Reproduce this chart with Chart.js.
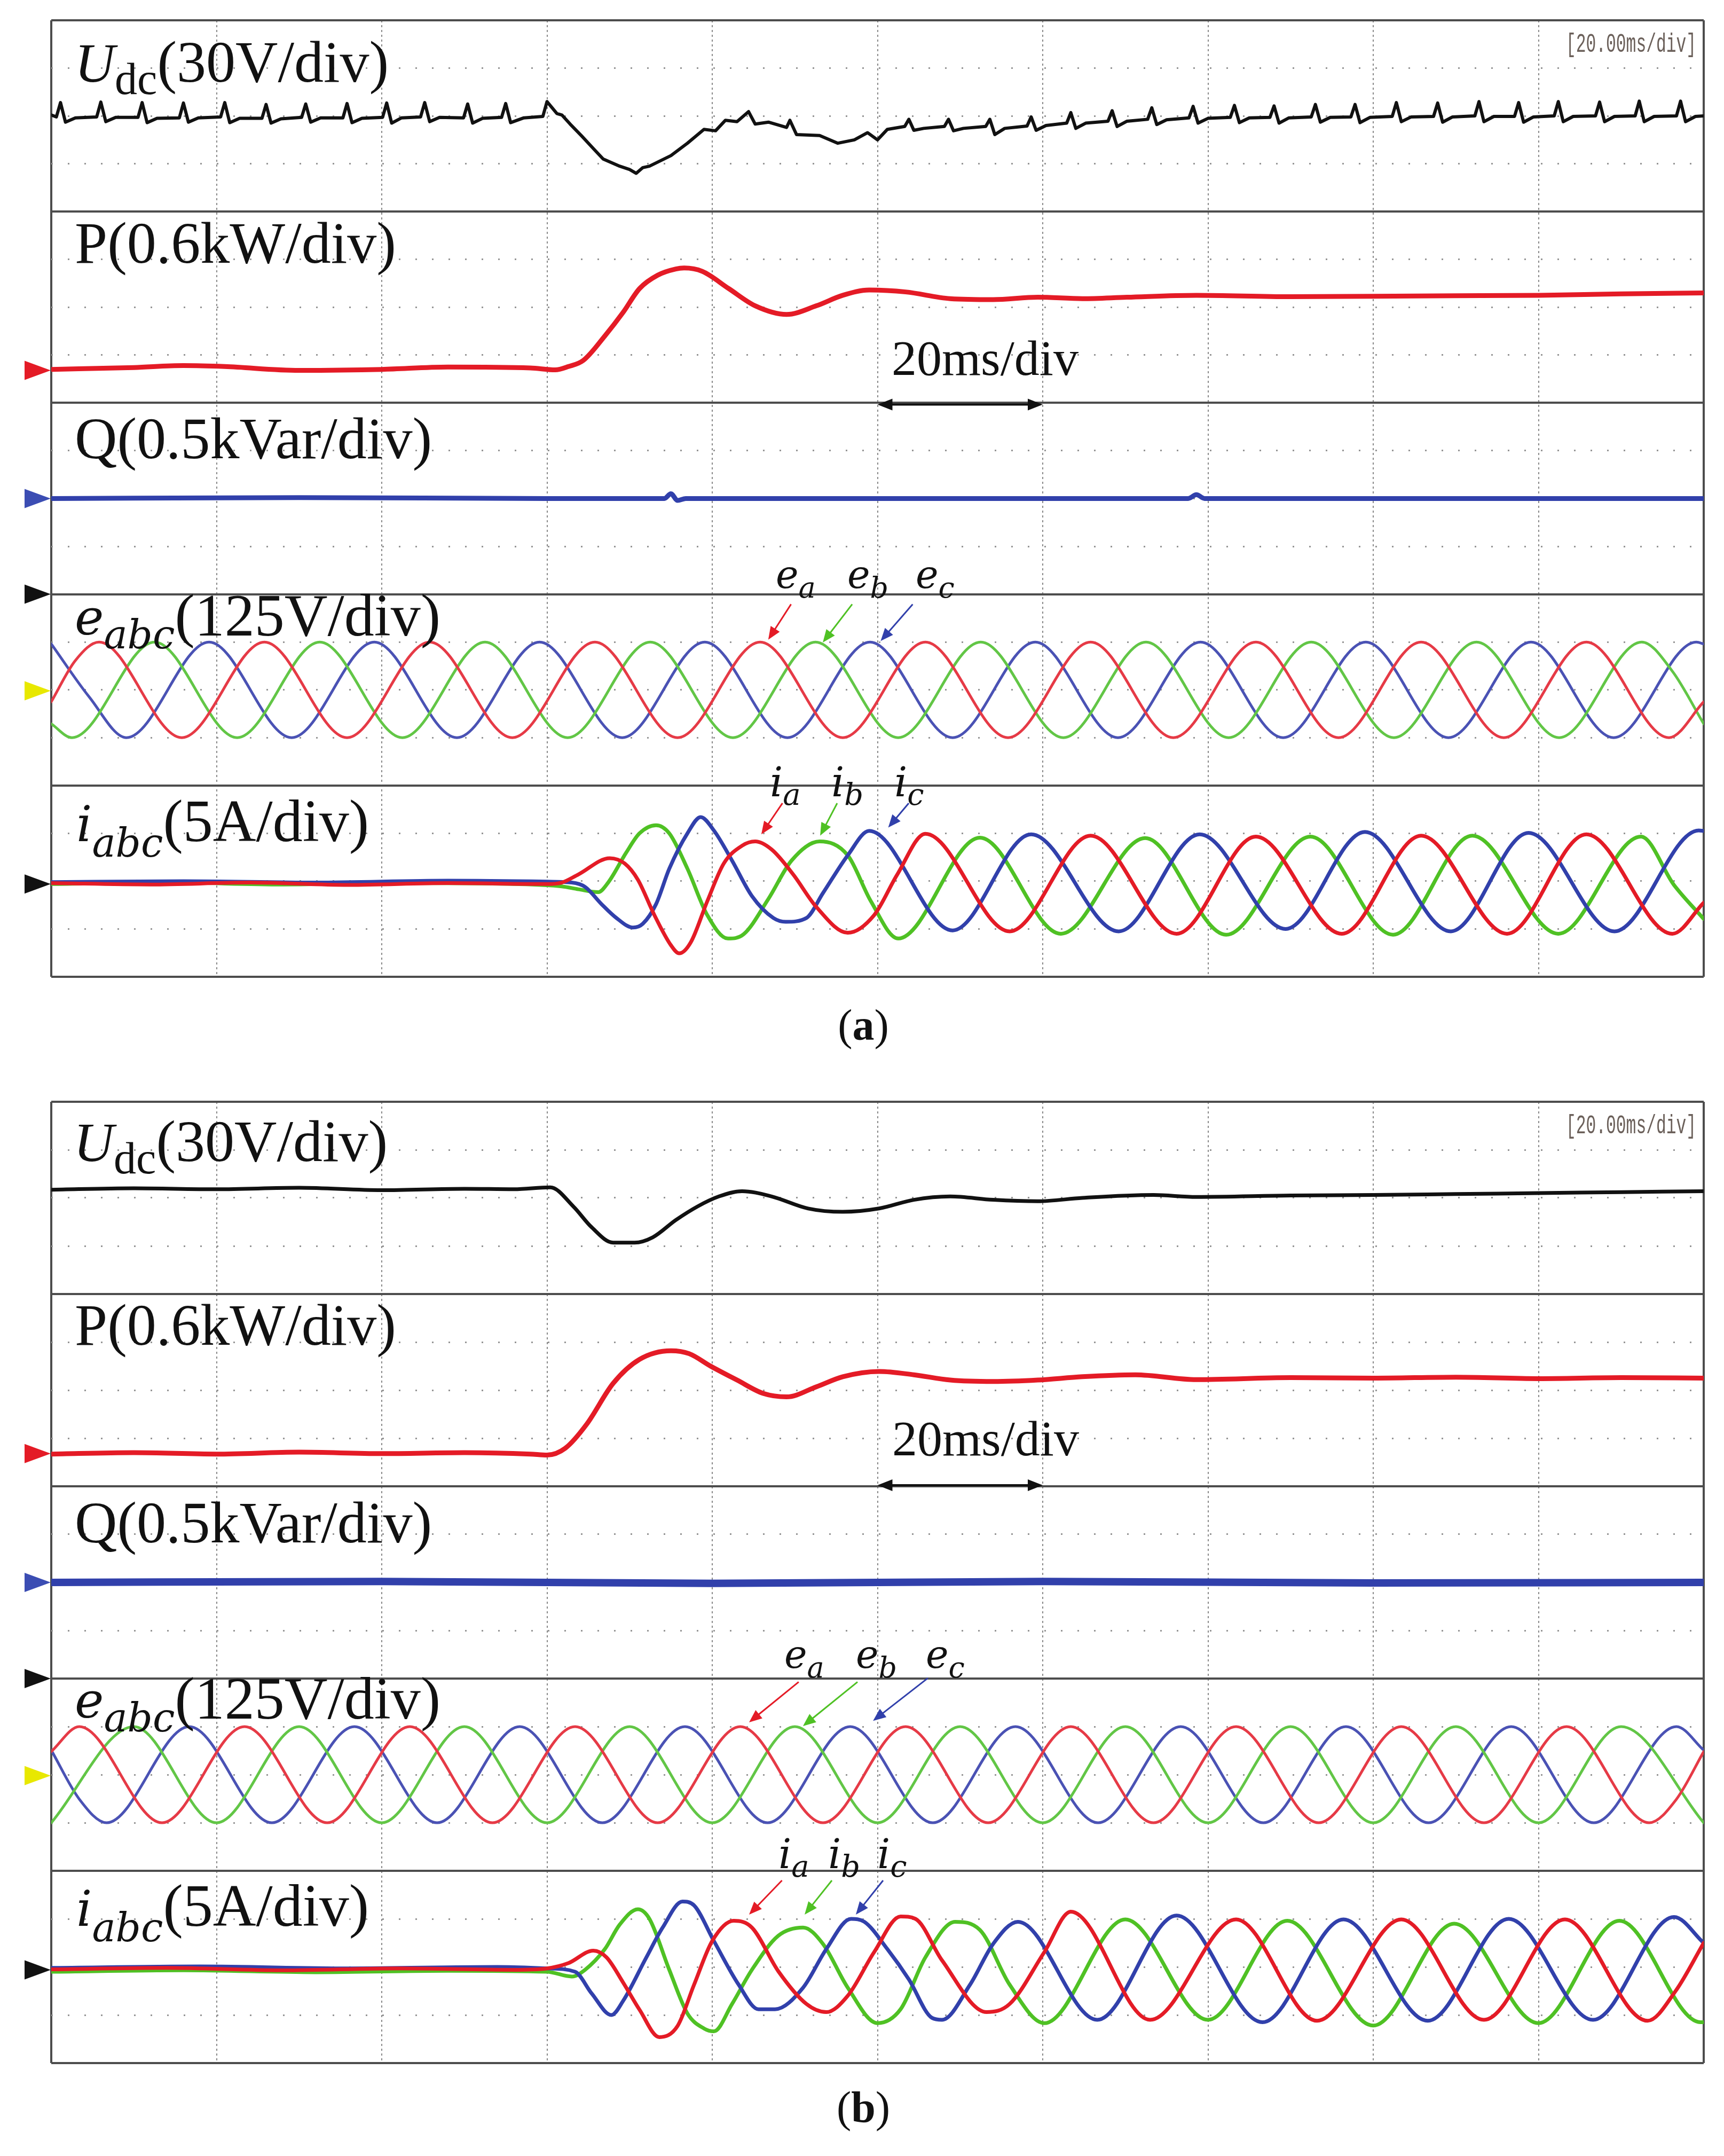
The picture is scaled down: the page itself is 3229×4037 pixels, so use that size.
<!DOCTYPE html>
<html><head><meta charset="utf-8">
<script src="https://cdn.jsdelivr.net/npm/chart.js@4.4.1/dist/chart.umd.min.js"></script>
<style>
html,body{margin:0;padding:0;background:#fff;}
body{width:3229px;height:4037px;position:relative;overflow:hidden;}
.pane{position:absolute;left:0;width:3229px;height:1880px;}
svg{position:absolute;left:0;top:0;pointer-events:none;}
.lab{font-family:"Liberation Serif","Times New Roman",serif;font-size:110px;fill:#111;}
</style></head><body>
<div class="pane" style="top:0px"><canvas id="ca"></canvas></div>
<div class="pane" style="top:2025px"><canvas id="cb"></canvas></div>
<svg width="3229" height="4037" xmlns="http://www.w3.org/2000/svg">
<!-- panel (a) -->
<text class="lab" x="140" y="153"><tspan style="font-style:italic;font-size:104px">U</tspan><tspan style="font-size:84px" dy="23">dc</tspan><tspan dy="-23">(30V/div)</tspan></text>
<text class="lab" x="140" y="492">P(0.6kW/div)</text>
<text class="lab" x="140" y="858">Q(0.5kVar/div)</text>
<text class="lab" x="140" y="1188"><tspan style="font-family:'DejaVu Serif';font-style:italic;font-size:92px">e</tspan><tspan style="font-family:'DejaVu Serif';font-style:italic;font-size:74px" dy="26">abc</tspan><tspan dy="-24" style="font-size:112px">(125V/div)</tspan></text>
<text class="lab" x="143" y="1575"><tspan style="font-family:'DejaVu Serif';font-style:italic;font-size:92px">i</tspan><tspan style="font-family:'DejaVu Serif';font-style:italic;font-size:74px" dy="29">abc</tspan><tspan dy="-29" style="font-size:112px">(5A/div)</tspan></text>
<text class="lab" x="1670" y="702" style="font-size:94px">20ms/div</text>
<text x="2933" y="97" style="font-family:'Liberation Mono',monospace;font-size:50px;fill:#6b605a" textLength="244" lengthAdjust="spacingAndGlyphs">[20.00ms/div]</text>
<text x="1453" y="1101" style="fill:#111"><tspan style="font-family:'DejaVu Serif';font-style:italic;font-size:72px">e</tspan><tspan style="font-family:'DejaVu Serif';font-style:italic;font-size:54px" dy="18">a</tspan></text>
<text x="1587" y="1101" style="fill:#111"><tspan style="font-family:'DejaVu Serif';font-style:italic;font-size:72px">e</tspan><tspan style="font-family:'DejaVu Serif';font-style:italic;font-size:54px" dy="18">b</tspan></text>
<text x="1715" y="1101" style="fill:#111"><tspan style="font-family:'DejaVu Serif';font-style:italic;font-size:72px">e</tspan><tspan style="font-family:'DejaVu Serif';font-style:italic;font-size:54px" dy="18">c</tspan></text>
<text x="1442" y="1491" style="fill:#111"><tspan style="font-family:'DejaVu Serif';font-style:italic;font-size:76px">i</tspan><tspan style="font-family:'DejaVu Serif';font-style:italic;font-size:56px" dy="16">a</tspan></text>
<text x="1557" y="1491" style="fill:#111"><tspan style="font-family:'DejaVu Serif';font-style:italic;font-size:76px">i</tspan><tspan style="font-family:'DejaVu Serif';font-style:italic;font-size:56px" dy="16">b</tspan></text>
<text x="1675" y="1491" style="fill:#111"><tspan style="font-family:'DejaVu Serif';font-style:italic;font-size:76px">i</tspan><tspan style="font-family:'DejaVu Serif';font-style:italic;font-size:56px" dy="16">c</tspan></text>
<text x="1617" y="1947" text-anchor="middle" style="font-family:'Liberation Serif';font-size:82px;fill:#111">(<tspan style="font-weight:bold">a</tspan>)</text>
<!-- panel (b) -->
<text class="lab" x="138" y="2174"><tspan style="font-style:italic;font-size:104px">U</tspan><tspan style="font-size:84px" dy="23">dc</tspan><tspan dy="-23">(30V/div)</tspan></text>
<text class="lab" x="140" y="2518">P(0.6kW/div)</text>
<text class="lab" x="140" y="2888">Q(0.5kVar/div)</text>
<text class="lab" x="140" y="3216"><tspan style="font-family:'DejaVu Serif';font-style:italic;font-size:92px">e</tspan><tspan style="font-family:'DejaVu Serif';font-style:italic;font-size:74px" dy="26">abc</tspan><tspan dy="-24" style="font-size:112px">(125V/div)</tspan></text>
<text class="lab" x="143" y="3606"><tspan style="font-family:'DejaVu Serif';font-style:italic;font-size:92px">i</tspan><tspan style="font-family:'DejaVu Serif';font-style:italic;font-size:74px" dy="29">abc</tspan><tspan dy="-29" style="font-size:112px">(5A/div)</tspan></text>
<text class="lab" x="1671" y="2725" style="font-size:94px">20ms/div</text>
<text x="2933" y="2122" style="font-family:'Liberation Mono',monospace;font-size:50px;fill:#6b605a" textLength="244" lengthAdjust="spacingAndGlyphs">[20.00ms/div]</text>
<text x="1469" y="3123" style="fill:#111"><tspan style="font-family:'DejaVu Serif';font-style:italic;font-size:72px">e</tspan><tspan style="font-family:'DejaVu Serif';font-style:italic;font-size:54px" dy="18">a</tspan></text>
<text x="1603" y="3123" style="fill:#111"><tspan style="font-family:'DejaVu Serif';font-style:italic;font-size:72px">e</tspan><tspan style="font-family:'DejaVu Serif';font-style:italic;font-size:54px" dy="18">b</tspan></text>
<text x="1734" y="3123" style="fill:#111"><tspan style="font-family:'DejaVu Serif';font-style:italic;font-size:72px">e</tspan><tspan style="font-family:'DejaVu Serif';font-style:italic;font-size:54px" dy="18">c</tspan></text>
<text x="1458" y="3498" style="fill:#111"><tspan style="font-family:'DejaVu Serif';font-style:italic;font-size:76px">i</tspan><tspan style="font-family:'DejaVu Serif';font-style:italic;font-size:56px" dy="16">a</tspan></text>
<text x="1551" y="3498" style="fill:#111"><tspan style="font-family:'DejaVu Serif';font-style:italic;font-size:76px">i</tspan><tspan style="font-family:'DejaVu Serif';font-style:italic;font-size:56px" dy="16">b</tspan></text>
<text x="1643" y="3498" style="fill:#111"><tspan style="font-family:'DejaVu Serif';font-style:italic;font-size:76px">i</tspan><tspan style="font-family:'DejaVu Serif';font-style:italic;font-size:56px" dy="16">c</tspan></text>
<text x="1617" y="3973" text-anchor="middle" style="font-family:'Liberation Serif';font-size:82px;fill:#111">(<tspan style="font-weight:bold">b</tspan>)</text>
</svg>
<script>
// ---------- readings (time in div of 20 ms, value in vertical div from channel reference) ----------
// Panel (a)
const udcA = [[0,0.02],[0.031,-0.02],[0.056,0.28],[0.086,-0.13],[0.146,-0.04],
 [0.275,-0.02],[0.30,0.29],[0.33,-0.12],[0.39,-0.03],
 [0.525,-0.03],[0.55,0.28],[0.58,-0.14],[0.64,-0.05],
 [0.775,-0.04],[0.80,0.27],[0.83,-0.13],[0.89,-0.04],
 [1.025,-0.02],[1.05,0.28],[1.08,-0.14],[1.14,-0.05],
 [1.275,-0.05],[1.30,0.24],[1.33,-0.15],[1.39,-0.06],
 [1.515,-0.03],[1.54,0.25],[1.57,-0.13],[1.63,-0.04],
 [1.765,-0.04],[1.79,0.26],[1.82,-0.14],[1.88,-0.05],
 [2.005,-0.03],[2.03,0.27],[2.06,-0.15],[2.12,-0.04],
 [2.235,-0.02],[2.26,0.28],[2.29,-0.12],[2.35,-0.03],
 [2.495,-0.04],[2.52,0.25],[2.55,-0.15],[2.61,-0.05],
 [2.725,-0.03],[2.75,0.26],[2.78,-0.14],[2.86,-0.04],
 [2.975,-0.01],[3.00,0.30],[3.06,0.05],
 [3.09,0.02],[3.14,-0.17],[3.21,-0.42],[3.28,-0.68],[3.34,-0.90],[3.44,-1.05],[3.50,-1.12],[3.54,-1.20],[3.58,-1.08],[3.62,-1.05],[3.75,-0.83],[3.85,-0.57],[3.95,-0.28],[4.02,-0.31],[4.08,-0.09],[4.15,-0.12],[4.22,0.09],[4.26,-0.17],[4.34,-0.13],[4.45,-0.24],[4.47,-0.09],[4.51,-0.39],[4.65,-0.41],[4.76,-0.57],[4.86,-0.50],[4.94,-0.35],[5.00,-0.50],[5.06,-0.28],
 [5.165,-0.22],[5.19,-0.07],[5.22,-0.30],[5.28,-0.26],
 [5.405,-0.22],[5.43,-0.07],[5.46,-0.31],[5.52,-0.26],
 [5.655,-0.22],[5.68,-0.07],[5.71,-0.39],[5.77,-0.26],
 [5.905,-0.21],[5.93,-0.02],[5.96,-0.30],[6.02,-0.20],
 [6.145,-0.15],[6.17,0.07],[6.20,-0.26],[6.26,-0.15],
 [6.395,-0.11],[6.42,0.11],[6.45,-0.22],[6.51,-0.11],
 [6.635,-0.07],[6.66,0.17],[6.69,-0.18],[6.75,-0.08],
 [6.885,-0.04],[6.91,0.20],[6.94,-0.15],[7.00,-0.05],
 [7.135,-0.03],[7.16,0.22],[7.19,-0.14],[7.25,-0.04],
 [7.375,-0.03],[7.40,0.21],[7.43,-0.15],[7.49,-0.04],
 [7.625,-0.02],[7.65,0.24],[7.68,-0.13],[7.74,-0.03],
 [7.865,-0.02],[7.89,0.24],[7.92,-0.14],[7.98,-0.03],
 [8.115,-0.01],[8.14,0.28],[8.17,-0.12],[8.23,-0.02],
 [8.365,-0.01],[8.39,0.27],[8.42,-0.13],[8.48,-0.02],
 [8.615,0.00],[8.64,0.30],[8.67,-0.12],[8.73,-0.01],
 [8.855,-0.01],[8.88,0.28],[8.91,-0.13],[8.97,-0.02],
 [9.095,0.00],[9.12,0.30],[9.15,-0.12],[9.21,-0.01],
 [9.345,0.00],[9.37,0.29],[9.40,-0.12],[9.46,-0.01],
 [9.585,0.00],[9.61,0.31],[9.64,-0.12],[9.70,-0.01],
 [9.835,0.00],[9.86,0.31],[9.89,-0.12],[9.95,-0.01],[10,0.00]];
const pA = [[0,-1.30],[0.5,-1.26],[0.8,-1.22],[1.05,-1.24],[1.5,-1.32],[2.0,-1.30],[2.4,-1.25],[2.9,-1.27],[3.05,-1.31],[3.13,-1.24],[3.22,-1.11],[3.35,-0.60],[3.46,-0.11],[3.56,0.39],[3.67,0.67],[3.78,0.80],[3.83,0.82],[3.94,0.75],[4.10,0.39],[4.26,0.03],[4.45,-0.15],[4.63,0.03],[4.79,0.25],[4.95,0.36],[5.17,0.32],[5.44,0.18],[5.70,0.16],[5.97,0.21],[6.24,0.18],[6.51,0.21],[6.93,0.25],[7.5,0.22],[8.0,0.23],[8.5,0.24],[9.0,0.25],[9.5,0.28],[10,0.30]];
const qA = [[0,0],[1.5,0.02],[3.0,0.0],[3.71,0.0],[3.75,0.10],[3.79,-0.04],[3.84,0.0],[5.0,0.0],[6.88,0.0],[6.93,0.08],[6.98,0.0],[10,0.0]];
const eaA = [[0,-0.25],[0.145,0.61],[0.29,1],[0.79,-1],[1.29,1],[1.79,-1],[2.29,1],[2.79,-1],[3.29,1],[3.79,-1],[4.29,1],[4.79,-1],[5.29,1],[5.79,-1],[6.29,1],[6.79,-1],[7.29,1],[7.79,-1],[8.29,1],[8.79,-1],[9.29,1],[9.79,-1],[10,-0.25]];
const ebA = [[0,-0.71],[0.125,-1],[0.625,1],[1.125,-1],[1.625,1],[2.125,-1],[2.625,1],[3.125,-1],[3.625,1],[4.125,-1],[4.625,1],[5.125,-1],[5.625,1],[6.125,-1],[6.625,1],[7.125,-1],[7.625,1],[8.125,-1],[8.625,1],[9.125,-1],[9.625,1],[9.81,0.39],[10,-0.71]];
const ecA = [[0,0.96],[0.23,-0.15],[0.455,-1],[0.955,1],[1.455,-1],[1.955,1],[2.455,-1],[2.955,1],[3.455,-1],[3.955,1],[4.455,-1],[4.955,1],[5.455,-1],[5.955,1],[6.455,-1],[6.955,1],[7.455,-1],[7.955,1],[8.455,-1],[8.955,1],[9.455,-1],[9.955,1],[10,0.96]];
const iaA = [[0,-0.04],[0.6,-0.07],[1.2,-0.03],[1.8,-0.08],[2.4,-0.04],[3.0,-0.06],[3.09,-0.03],[3.19,0.14],[3.38,0.48],[3.47,0.37],[3.55,0.03],[3.65,-0.71],[3.75,-1.34],[3.80,-1.51],[3.87,-1.28],[3.97,-0.42],[4.07,0.37],[4.18,0.74],[4.26,0.83],[4.36,0.66],[4.49,0.14],[4.63,-0.54],[4.82,-1.08],[4.98,-0.71],[5.12,0.14],[5.29,0.99],[5.80,-1.05],[6.29,0.95],[6.81,-1.10],[7.29,0.93],[7.81,-1.10],[8.29,0.95],[8.81,-1.10],[9.29,0.98],[9.81,-1.10],[10,-0.45]];
const ibA = [[0,-0.06],[0.7,-0.03],[1.4,-0.07],[2.1,-0.04],[2.8,-0.06],[3.09,-0.11],[3.19,-0.17],[3.31,-0.23],[3.37,-0.03],[3.48,0.60],[3.56,1.00],[3.66,1.17],[3.74,1.00],[3.85,0.26],[3.97,-0.71],[4.095,-1.20],[4.19,-1.11],[4.34,-0.37],[4.48,0.43],[4.65,0.83],[4.82,0.54],[4.96,-0.42],[5.125,-1.20],[5.62,0.91],[6.11,-1.10],[6.62,0.90],[7.11,-1.12],[7.62,0.93],[8.12,-1.12],[8.60,0.95],[9.12,-1.10],[9.62,0.93],[9.82,-0.08],[10,-0.79]];
const icA = [[0,-0.02],[0.8,0.0],[1.6,-0.03],[2.4,0.01],[3.0,-0.01],[3.15,-0.03],[3.23,-0.12],[3.33,-0.48],[3.42,-0.77],[3.52,-0.97],[3.58,-0.89],[3.66,-0.48],[3.74,0.26],[3.85,1.00],[3.93,1.34],[4.01,1.06],[4.12,0.43],[4.24,-0.31],[4.37,-0.77],[4.445,-0.85],[4.57,-0.77],[4.67,-0.25],[4.82,0.54],[4.95,1.05],[5.455,-1.03],[5.93,0.98],[6.46,-1.05],[6.95,0.98],[7.47,-1.00],[7.95,1.03],[8.47,-1.05],[8.94,1.01],[9.46,-1.05],[9.97,1.06],[10,1.05]];
// Panel (b)
const udcB = [[0,0.17],[0.5,0.20],[1.0,0.18],[1.5,0.21],[2.0,0.16],[2.5,0.19],[2.8,0.18],[3.02,0.22],[3.16,-0.18],[3.27,-0.61],[3.40,-0.93],[3.53,-0.93],[3.64,-0.82],[3.78,-0.46],[3.91,-0.18],[4.04,0.03],[4.18,0.14],[4.36,0.03],[4.58,-0.22],[4.79,-0.29],[5.01,-0.22],[5.22,-0.04],[5.44,0.03],[5.70,-0.04],[5.97,-0.07],[6.24,0.0],[6.67,0.06],[6.93,0.02],[7.5,0.05],[8.0,0.06],[8.5,0.08],[9.0,0.10],[9.5,0.12],[10,0.14]];
const pB = [[0,-1.33],[0.5,-1.30],[1.0,-1.33],[1.5,-1.29],[2.0,-1.32],[2.5,-1.30],[2.9,-1.33],[3.0,-1.35],[3.11,-1.21],[3.24,-0.71],[3.40,0.14],[3.56,0.64],[3.75,0.82],[3.86,0.76],[3.99,0.50],[4.15,0.21],[4.31,-0.07],[4.45,-0.14],[4.63,0.07],[4.79,0.28],[5.01,0.39],[5.22,0.32],[5.44,0.21],[5.70,0.18],[5.97,0.21],[6.24,0.28],[6.56,0.32],[6.93,0.22],[7.5,0.26],[8.0,0.25],[8.5,0.27],[9.0,0.24],[9.5,0.26],[10,0.25]];
const qB = [[0,0],[2,0.02],[4,-0.02],[6,0.02],[8,-0.01],[10,0]];
const eaB = [[0,0.48],[0.17,1],[0.67,-1],[1.17,1],[1.67,-1],[2.17,1],[2.67,-1],[3.17,1],[3.67,-1],[4.17,1],[4.67,-1],[5.17,1],[5.67,-1],[6.17,1],[6.67,-1],[7.17,1],[7.67,-1],[8.17,1],[8.67,-1],[9.17,1],[9.67,-1],[9.835,-0.51],[10,0.48]];
const ebB = [[0,-1],[0.5,1],[1,-1],[1.5,1],[2,-1],[2.5,1],[3,-1],[3.5,1],[4,-1],[4.5,1],[5,-1],[5.5,1],[6,-1],[6.5,1],[7,-1],[7.5,1],[8,-1],[8.5,1],[9,-1],[9.5,1],[10,-1]];
const ecB = [[0,0.51],[0.17,-0.51],[0.335,-1],[0.835,1],[1.335,-1],[1.835,1],[2.335,-1],[2.835,1],[3.335,-1],[3.835,1],[4.335,-1],[4.835,1],[5.335,-1],[5.835,1],[6.335,-1],[6.835,1],[7.335,-1],[7.835,1],[8.335,-1],[8.835,1],[9.335,-1],[9.835,1],[10,0.51]];
const iaB = [[0,-0.05],[0.7,-0.02],[1.4,-0.07],[2.1,-0.03],[2.8,-0.06],[3.0,-0.03],[3.13,0.08],[3.28,0.34],[3.36,0.20],[3.46,-0.32],[3.56,-0.89],[3.68,-1.46],[3.79,-1.23],[3.89,-0.37],[4.0,0.54],[4.13,0.96],[4.24,0.82],[4.40,-0.09],[4.57,-0.77],[4.69,-0.94],[4.82,-0.60],[4.98,0.31],[5.14,1.05],[5.23,1.00],[5.39,0.14],[5.66,-0.94],[5.80,-0.77],[6.01,0.31],[6.17,1.15],[6.65,-1.10],[7.17,0.99],[7.66,-1.12],[8.17,0.99],[8.67,-1.10],[9.16,0.99],[9.66,-1.12],[9.83,-0.50],[10,0.50]];
const ibB = [[0,-0.10],[0.8,-0.07],[1.6,-0.11],[2.4,-0.08],[3.0,-0.10],[3.15,-0.20],[3.23,-0.06],[3.35,0.37],[3.44,0.88],[3.55,1.20],[3.62,1.00],[3.74,-0.06],[3.85,-0.97],[3.95,-1.28],[4.01,-1.34],[4.12,-0.77],[4.24,-0.06],[4.40,0.65],[4.55,0.82],[4.67,0.48],[4.82,-0.43],[5.0,-1.17],[5.14,-0.88],[5.29,0.20],[5.47,0.94],[5.62,0.77],[5.80,-0.37],[6.01,-1.17],[6.50,0.99],[7.0,-1.10],[7.48,0.96],[8.0,-1.22],[8.49,0.90],[9.0,-1.17],[9.49,0.96],[9.98,-1.15],[10,-1.15]];
const icB = [[0,-0.02],[0.9,0.01],[1.8,-0.03],[2.7,0.0],[3.0,-0.03],[3.17,-0.10],[3.27,-0.55],[3.39,-1.00],[3.46,-0.71],[3.60,0.19],[3.70,0.82],[3.82,1.36],[3.89,1.28],[4.01,0.54],[4.16,-0.37],[4.28,-0.88],[4.38,-0.88],[4.55,-0.43],[4.69,0.37],[4.84,1.00],[4.92,0.94],[5.06,0.37],[5.19,-0.26],[5.33,-1.06],[5.39,-1.10],[5.56,-0.37],[5.70,0.48],[5.85,0.94],[6.33,-1.10],[6.81,1.07],[7.33,-1.15],[7.82,0.99],[8.33,-1.12],[8.82,1.00],[9.33,-1.10],[9.82,1.04],[10,0.50]];

// ---------- styling / layout ----------
const OFF = {udc:18, p:14, q:10, e:6, i:2};
const COL = {blk:'#111111', red:'#e41b26', grn:'#4fc124', blu:'#3140ab', eRed:'#e63a46', eGrn:'#62c646', eBlu:'#4a52b4', yel:'#e8e800'};

function xy(arr, off){ return arr.map(p => ({x:p[0], y:off + p[1]})); }
function ds(arr, off, color, w, smooth){
  return {data: xy(arr, off), borderColor: color, borderWidth: w, fill:false, pointRadius:0,
          cubicInterpolationMode: smooth ? 'monotone' : 'default', tension: 0,
          borderJoinStyle:'round', borderCapStyle:'round'};
}

function arrowHead(ctx, x1, y1, x2, y2, len, half){
  const a = Math.atan2(y2 - y1, x2 - x1);
  ctx.beginPath();
  ctx.moveTo(x2, y2);
  ctx.lineTo(x2 - len*Math.cos(a) + half*Math.sin(a), y2 - len*Math.sin(a) - half*Math.cos(a));
  ctx.lineTo(x2 - len*Math.cos(a) - half*Math.sin(a), y2 - len*Math.sin(a) + half*Math.cos(a));
  ctx.closePath();
  ctx.fill();
}

const scopeDecor = {
  id: 'scopeDecor',
  afterDatasetsDraw(chart, args, opts){
    const ctx = chart.ctx, sx = chart.scales.x, sy = chart.scales.y;
    ctx.save();
    (opts.arrows || []).forEach(a => {
      const x1 = sx.getPixelForValue(a.x1), y1 = sy.getPixelForValue(a.y1);
      const x2 = sx.getPixelForValue(a.x2), y2 = sy.getPixelForValue(a.y2);
      const ang = Math.atan2(y2 - y1, x2 - x1);
      ctx.strokeStyle = a.color; ctx.fillStyle = a.color; ctx.lineWidth = 3;
      ctx.beginPath(); ctx.moveTo(x1, y1);
      ctx.lineTo(x2 - 18*Math.cos(ang), y2 - 18*Math.sin(ang)); ctx.stroke();
      arrowHead(ctx, x1, y1, x2, y2, 24, 10);
    });
    if (opts.span){
      const s = opts.span;
      const xa = sx.getPixelForValue(s.x1), xb = sx.getPixelForValue(s.x2), yy = sy.getPixelForValue(s.y) + s.dy;
      ctx.strokeStyle = '#111'; ctx.fillStyle = '#111'; ctx.lineWidth = 4;
      ctx.beginPath(); ctx.moveTo(xa + 20, yy); ctx.lineTo(xb - 20, yy); ctx.stroke();
      arrowHead(ctx, xb, yy, xa, yy, 28, 11);
      arrowHead(ctx, xa, yy, xb, yy, 28, 11);
    }
    ctx.restore();
  },
  afterDraw(chart, args, opts){
    const ctx = chart.ctx, sy = chart.scales.y, left = chart.chartArea.left;
    ctx.save();
    (opts.markers || []).forEach(m => {
      const py = sy.getPixelForValue(m.y);
      ctx.fillStyle = m.color;
      ctx.beginPath();
      ctx.moveTo(left - 50, py - 18); ctx.lineTo(left - 1, py); ctx.lineTo(left - 50, py + 18);
      ctx.closePath(); ctx.fill();
    });
    ctx.restore();
  }
};

function makeChart(id, datasets, decor, padding){
  return new Chart(document.getElementById(id), {
    type: 'line',
    data: {datasets},
    plugins: [scopeDecor],
    options: {
      responsive: true, maintainAspectRatio: false, animation: false, devicePixelRatio: 1,
      events: [],
      layout: {padding},
      plugins: {legend:{display:false}, tooltip:{enabled:false}, title:{display:false}, scopeDecor: decor},
      scales: {
        x: {type:'linear', min:0, max:10, ticks:{display:false, stepSize:1},
            grid:{color:c => (c.tick && (c.tick.value === 0 || c.tick.value === 10)) ? 'rgba(0,0,0,0)' : '#888888', lineWidth:2, drawTicks:false},
            border:{display:false, dash:[4,5]}},
        xf: {type:'linear', position:'top', min:0, max:10, ticks:{display:false, stepSize:10},
            grid:{color:'#4d4d4d', lineWidth:4, drawTicks:false}, border:{display:false}},
        y: {type:'linear', min:0, max:20, ticks:{display:false, stepSize:1},
            grid:{color:c => (c.tick && c.tick.value % 4 === 0) ? 'rgba(0,0,0,0)' : '#969696', lineWidth:3, drawTicks:false},
            border:{display:false, dash:[3,28]}},
        yf: {type:'linear', position:'right', min:0, max:20, ticks:{display:false, stepSize:4},
            grid:{color:'#4d4d4d', lineWidth:4, drawTicks:false}, border:{display:false}}
      }
    }
  });
}

const markers = [
  {y:12.68, color:COL.red}, {y:10.0, color:'#3b4db3'}, {y:8.0, color:COL.blk},
  {y:5.98, color:COL.yel}, {y:1.94, color:COL.blk}
];

makeChart('ca', [
  ds(udcA, OFF.udc, COL.blk, 6, false),
  ds(pA, OFF.p, COL.red, 9, true),
  ds(qA, OFF.q, COL.blu, 9, true),
  ds(eaA, OFF.e, COL.eRed, 5, true),
  ds(ebA, OFF.e, COL.eGrn, 5, true),
  ds(ecA, OFF.e, COL.eBlu, 5, true),
  ds(iaA, OFF.i, COL.red, 7, true),
  ds(icA, OFF.i, COL.blu, 7, true),
  ds(ibA, OFF.i, COL.grn, 7, true)
], {
  markers,
  arrows: [
    {x1:4.477, y1:7.79, x2:4.339, y2:7.05, color:COL.red},
    {x1:4.847, y1:7.79, x2:4.669, y2:6.99, color:COL.grn},
    {x1:5.213, y1:7.79, x2:5.019, y2:7.02, color:COL.blu},
    {x1:4.425, y1:3.63, x2:4.297, y2:2.98, color:COL.red},
    {x1:4.756, y1:3.63, x2:4.653, y2:2.95, color:COL.grn},
    {x1:5.189, y1:3.63, x2:5.065, y2:3.12, color:COL.blu}
  ],
  span: {x1:5, x2:6, y:12, dy:3}
}, {left:96, right:38, top:38, bottom:51});

makeChart('cb', [
  ds(udcB, OFF.udc, COL.blk, 7, true),
  ds(pB, OFF.p, COL.red, 9, true),
  ds(qB, OFF.q, COL.blu, 14, true),
  ds(eaB, OFF.e, COL.eRed, 5, true),
  ds(ebB, OFF.e, COL.eGrn, 5, true),
  ds(ecB, OFF.e, COL.eBlu, 5, true),
  ds(iaB, OFF.i, COL.red, 7, true),
  ds(icB, OFF.i, COL.blu, 7, true),
  ds(ibB, OFF.i, COL.grn, 7, true)
], {
  markers,
  arrows: [
    {x1:4.523, y1:7.93, x2:4.223, y2:7.09, color:COL.red},
    {x1:4.879, y1:7.93, x2:4.549, y2:7.01, color:COL.grn},
    {x1:5.305, y1:8.01, x2:4.973, y2:7.12, color:COL.blu},
    {x1:4.422, y1:3.80, x2:4.223, y2:3.09, color:COL.red},
    {x1:4.724, y1:3.80, x2:4.559, y2:3.09, color:COL.grn},
    {x1:5.034, y1:3.80, x2:4.869, y2:3.09, color:COL.blu}
  ],
  span: {x1:5, x2:6, y:12, dy:-2}
}, {left:96, right:38, top:38, bottom:42});
</script>
</body></html>
